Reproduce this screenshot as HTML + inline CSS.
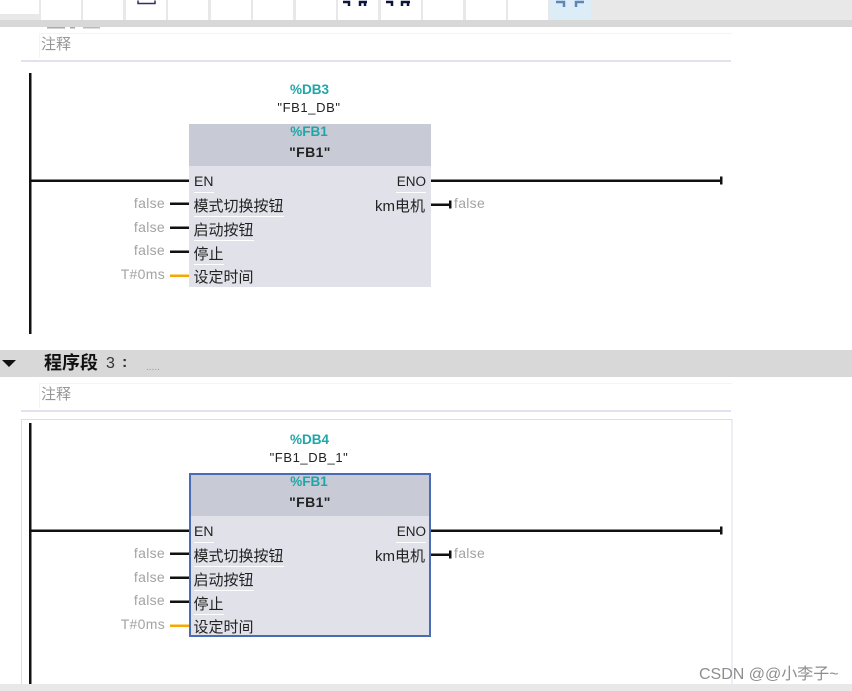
<!DOCTYPE html>
<html><head><meta charset="utf-8"><style>
html,body{margin:0;padding:0;background:#fff;width:852px;height:691px;overflow:hidden}
svg{display:block}
text{font-family:"Liberation Sans","Noto Sans CJK SC",sans-serif;font-size:15px;fill:#222}
.g{fill:#a3a3a3;text-anchor:end;font-size:14px;letter-spacing:.3px}
.gl{fill:#a3a3a3;font-size:14px;letter-spacing:.3px}
.t{fill:#1fa6a8;font-weight:bold;text-anchor:middle;font-size:13.500px}
.b{text-anchor:middle;font-size:13px;letter-spacing:.6px}
.bb{text-anchor:middle;font-size:14px;font-weight:bold;letter-spacing:.4px}
.r{text-anchor:end}
.c{fill:#8e8e8e;font-size:16px}
.k{fill:#111}
</style></head><body>
<svg width="852" height="691" viewBox="0 0 852 691" xmlns="http://www.w3.org/2000/svg">
<rect width="852" height="20" fill="#e8e8e8"/>
<g fill="#fff">
<rect x="41" y="0" width="40" height="20"/><rect x="83" y="0" width="40" height="20"/><rect x="126" y="0" width="40" height="20"/><rect x="168" y="0" width="40" height="20"/><rect x="211" y="0" width="40" height="20"/><rect x="253" y="0" width="40" height="20"/><rect x="296" y="0" width="40" height="20"/><rect x="338" y="0" width="40" height="20"/><rect x="381" y="0" width="40" height="20"/><rect x="423" y="0" width="40" height="20"/><rect x="466" y="0" width="40" height="20"/><rect x="508" y="0" width="40" height="20"/>
</g>
<rect x="0" y="0" width="39" height="14" fill="#fff"/>
<rect x="550" y="0" width="41" height="20" fill="#dcedf8"/>
<path d="M138 .5V3.500H155V.5" fill="none" stroke="#2e2e6a" stroke-width="1.500"/>
<g fill="none" stroke="#0d1440" stroke-width="2.500">
<path d="M343 2H349V6M360 6V2H367M365 2V6M386 2H392V6M402 6V2H410M408 2V6"/>
</g>
<path d="M556 2H564V7M576 7V2H584" fill="none" stroke="#5f86b5" stroke-width="2.500"/>
<rect y="20" width="852" height="7" fill="#d8d8d8"/>
<rect x="47" y="27" width="18" height="1.500" fill="#aaa"/>
<rect x="70" y="27" width="5" height="1.500" fill="#aaa"/>
<rect x="83" y="27" width="17" height="1.500" fill="#bbb"/>

<rect x="39" y="33" width="693" height="1" fill="#f4f4f4"/>
<rect x="39" y="33" width="1" height="25" fill="#f4f4f4"/>
<text x="41" y="49" style="font-size:15px;fill:#969696">注释</text>
<rect x="21" y="60" width="710" height="2" fill="#e3e1f0"/>

<!-- Network 2 -->
<rect x="29" y="73" width="2.500" height="261" class="k"/>
<rect x="30" y="179.500" width="159" height="2.500" class="k"/>
<rect x="431" y="179.500" width="290" height="2.500" class="k"/>
<rect x="720" y="176.500" width="2.500" height="8" class="k"/>
<text x="309.500" y="94" class="t">%DB3</text>
<text x="309" y="112" class="b">"FB1_DB"</text>
<rect x="189" y="124" width="242" height="163" fill="#e0e1e9"/>
<rect x="189" y="124" width="242" height="42" fill="#c8cad6"/>
<text x="309" y="136" class="t">%FB1</text>
<text x="310" y="157" class="bb">"FB1"</text>
<text x="194" y="186" style="font-size:14px">EN</text>
<text x="426" y="186" class="r" style="font-size:13.500px">ENO</text>
<g fill="#fff"><rect x="194" y="192" width="20" height="1"/><rect x="396" y="192" width="30" height="1"/><rect x="194" y="216" width="90" height="1"/><rect x="194" y="240" width="60" height="1"/><rect x="194" y="264" width="30" height="1"/></g>
<text x="193.500" y="211">模式切换按钮</text>
<text x="193.500" y="235">启动按钮</text>
<text x="193.500" y="259">停止</text>
<text x="193.500" y="282">设定时间</text>
<text x="425" y="211" class="r">km电机</text>
<text x="165" y="208" class="g">false</text>
<text x="165" y="232" class="g">false</text>
<text x="165" y="255" class="g">false</text>
<text x="165" y="279" class="g">T#0ms</text>
<rect x="170" y="202.500" width="19" height="2.500" class="k"/>
<rect x="170" y="226.500" width="19" height="2.500" class="k"/>
<rect x="170" y="250.500" width="19" height="2.500" class="k"/>
<rect x="170" y="274.500" width="19" height="2.500" fill="#f5a800"/>
<rect x="431" y="203.500" width="20" height="2.500" class="k"/>
<rect x="449" y="200.500" width="2.500" height="8" class="k"/>
<text x="454" y="208" class="gl">false</text>

<!-- Network 3 header -->
<rect y="350" width="852" height="27" fill="#d8d8d8"/>
<path d="M2 360H16L9 367Z" fill="#111"/>
<text x="44" y="369" style="font-size:18px;font-weight:bold;fill:#111">程序段</text>
<text x="106" y="368" style="font-size:16px;fill:#333">3</text>
<text x="122" y="367" style="font-size:16px;font-weight:bold;fill:#333">:</text>
<text x="146" y="370" style="font-size:10px;fill:#999">.....</text>

<rect x="39" y="383" width="693" height="1" fill="#f4f4f4"/>
<rect x="39" y="383" width="1" height="25" fill="#f4f4f4"/>
<text x="41" y="399" style="font-size:15px;fill:#969696">注释</text>
<rect x="21" y="410" width="710" height="2" fill="#e3e1f0"/>
<rect x="21.500" y="419.500" width="710.500" height="280" fill="none" stroke="#dcdcea" stroke-width="1"/>

<rect x="29" y="423" width="2.500" height="262" class="k"/>
<rect x="30" y="529.500" width="159" height="2.500" class="k"/>
<rect x="431" y="529.500" width="290" height="2.500" class="k"/>
<rect x="720" y="526.500" width="2.500" height="8" class="k"/>
<text x="309.500" y="444" class="t">%DB4</text>
<text x="309" y="462" class="b">"FB1_DB_1"</text>
<rect x="189" y="474" width="242" height="163" fill="#e0e1e9"/>
<rect x="189" y="474" width="242" height="42" fill="#c8cad6"/>
<rect x="190" y="474" width="240" height="162" fill="none" stroke="#4a6cb5" stroke-width="2"/>
<text x="309" y="486" class="t">%FB1</text>
<text x="310" y="507" class="bb">"FB1"</text>
<text x="194" y="536" style="font-size:14px">EN</text>
<text x="426" y="536" class="r" style="font-size:13.500px">ENO</text>
<g fill="#fff"><rect x="194" y="542" width="20" height="1"/><rect x="396" y="542" width="30" height="1"/><rect x="194" y="566" width="90" height="1"/><rect x="194" y="590" width="60" height="1"/><rect x="194" y="614" width="30" height="1"/></g>
<text x="193.500" y="561">模式切换按钮</text>
<text x="193.500" y="585">启动按钮</text>
<text x="193.500" y="609">停止</text>
<text x="193.500" y="632">设定时间</text>
<text x="425" y="561" class="r">km电机</text>
<text x="165" y="558" class="g">false</text>
<text x="165" y="582" class="g">false</text>
<text x="165" y="605" class="g">false</text>
<text x="165" y="629" class="g">T#0ms</text>
<rect x="170" y="552.500" width="19" height="2.500" class="k"/>
<rect x="170" y="576.500" width="19" height="2.500" class="k"/>
<rect x="170" y="600.500" width="19" height="2.500" class="k"/>
<rect x="170" y="624.500" width="19" height="2.500" fill="#f5a800"/>
<rect x="431" y="553.500" width="20" height="2.500" class="k"/>
<rect x="449" y="550.500" width="2.500" height="8" class="k"/>
<text x="454" y="558" class="gl">false</text>

<rect y="684" width="852" height="7" fill="#e8e8e8"/>
<text x="699" y="679" class="c">CSDN @@小李子~</text>
</svg>
</body></html>
